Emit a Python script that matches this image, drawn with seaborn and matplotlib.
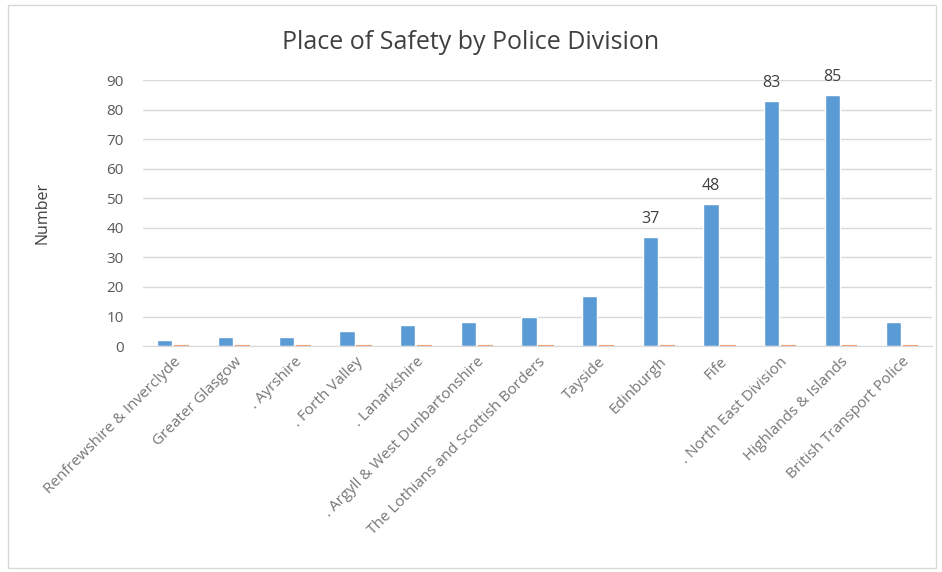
import pandas as pd
import matplotlib
matplotlib.use("Agg")
import matplotlib.pyplot as plt
import seaborn as sns
from matplotlib.patches import Rectangle

# Data
divisions = [
    "Renfrewshire & Inverclyde", "Greater Glasgow", ". Ayrshire", ". Forth Valley",
    ". Lanarkshire", ". Argyll & West Dunbartonshire", "The Lothians and Scottish Borders",
    "Tayside", "Edinburgh", "Fife", ". North East Division", "Highlands & Islands",
    "British Transport Police",
]
series_blue = [2, 3, 3, 5, 7, 8, 10, 17, 37, 48, 83, 85, 8]
series_orange = [0, 0, 0, 0, 0, 0, 0, 0, 0, 0, 0, 0, 0]
labelled = ["Edinburgh", "Fife", ". North East Division", "Highlands & Islands"]
yticks = [0, 10, 20, 30, 40, 50, 60, 70, 80, 90]

df = pd.DataFrame({
    "Division": divisions * 2,
    "Number": series_blue + series_orange,
    "Series": ["A"] * len(divisions) + ["B"] * len(divisions),
})

sns.set_style("white")
plt.rcParams["font.family"] = ["Open Sans", "DejaVu Sans"]

BLUE = "#5B9BD5"
ORANGE = "#ED7D31"
GREY = "#595959"

fig = plt.figure(figsize=(9.42, 5.72), dpi=100)
ax = fig.add_axes([0.1518, 0.395, 0.8376, 0.465])

sns.barplot(data=df, x="Division", y="Number", hue="Series",
            palette=[BLUE, ORANGE], width=0.56, gap=0.1,
            legend=False, ax=ax, saturation=1)

# zero-height orange bars show as a thin line, like in Excel
for p in ax.containers[1]:
    p.set_edgecolor("#F0A070")
    p.set_linewidth(1.5)

labels = [str(v) if d in labelled else "" for d, v in zip(divisions, series_blue)]
ax.bar_label(ax.containers[0], labels=labels, padding=7, fontsize=11.5, color="#404040")

ax.set_ylim(0, 90)
ax.set_yticks(yticks)
ax.set_xlim(-0.5, len(divisions) - 0.5)
ax.yaxis.grid(True, color="#D9D9D9", linewidth=1)
ax.set_axisbelow(True)
for s in ["top", "right", "left"]:
    ax.spines[s].set_visible(False)
ax.spines["bottom"].set_color("#D9D9D9")

ax.tick_params(axis="y", length=0, labelsize=11, labelcolor=GREY, pad=14)
ax.tick_params(axis="x", length=0, labelsize=11, labelcolor="#767676", pad=6)
plt.setp(ax.get_xticklabels(), rotation=45, ha="right", rotation_mode="anchor")

ax.set_xlabel("")
ax.set_ylabel("Number", fontsize=11.5, color="#404040", labelpad=40)
fig.text(0.5, 0.925, "Place of Safety by Police Division", fontsize=18,
         color="#404040", ha="center", va="center")

# chart border
fig.patches.append(Rectangle((0.008, 0.007), 0.986, 0.985, transform=fig.transFigure,
                             fill=False, edgecolor="#D9D9D9", linewidth=1))

fig.savefig("out.png", dpi=100)
